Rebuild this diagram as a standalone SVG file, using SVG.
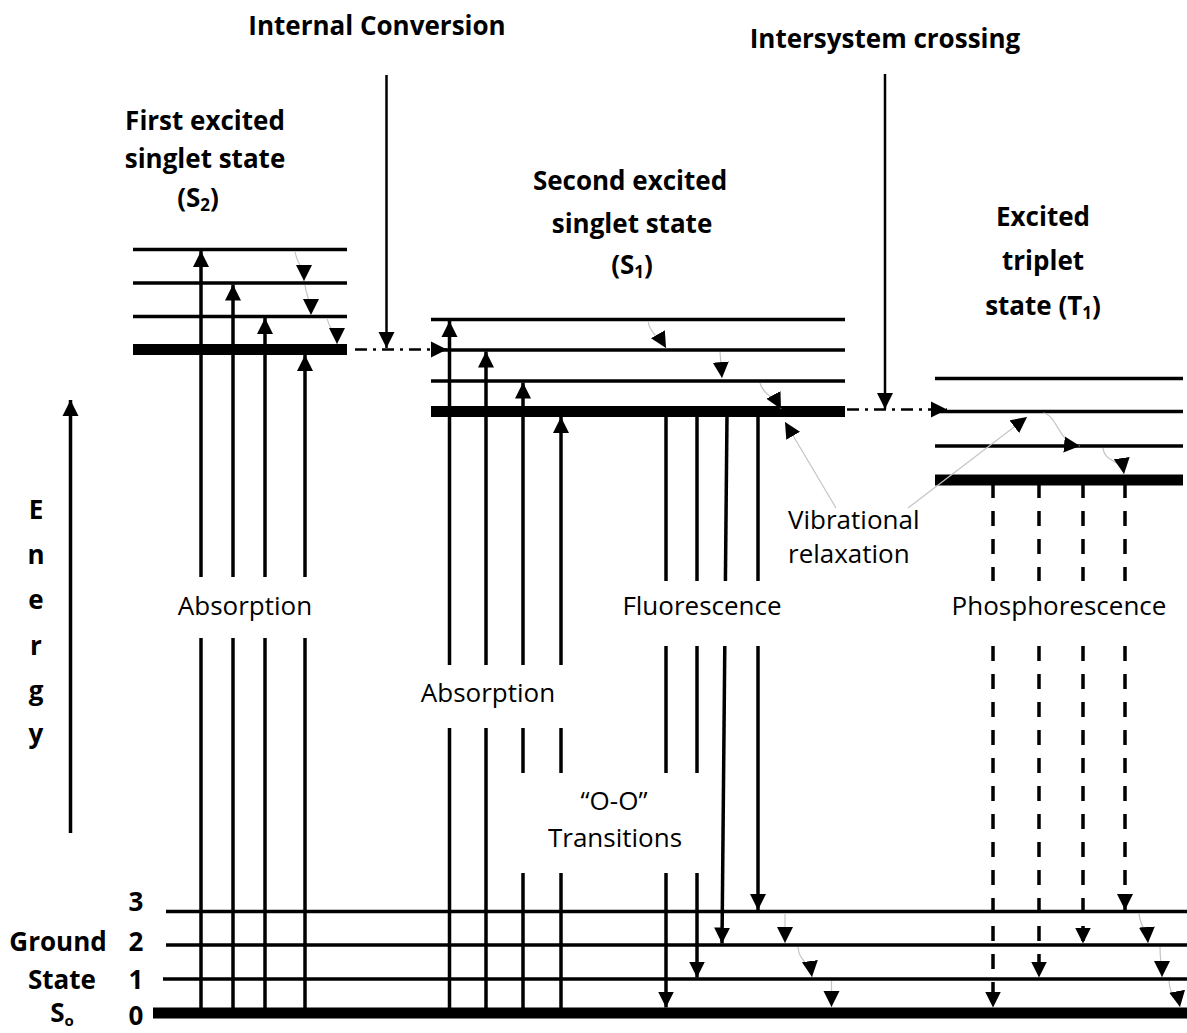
<svg xmlns="http://www.w3.org/2000/svg" width="1187" height="1033" viewBox="0 0 1187 1033">
<style>
.lv{stroke:#000;stroke-width:3.5}
.thk{stroke:#000;stroke-width:11}
.ar{stroke:#000;stroke-width:3.5;fill:none}
.ds{stroke-dasharray:15 13}
.vr{stroke:#c4c4c4;stroke-width:1.2;fill:none}
.dd{stroke:#000;stroke-width:2.5;stroke-dasharray:12 6 3 6;fill:none}
.th{stroke:#000;stroke-width:2.5;fill:none}
.t{font-family:"Open Sans","Liberation Sans",sans-serif;font-size:26px;text-anchor:middle;fill:#000}
.l{text-anchor:start}
.b{font-weight:bold}
</style>
<defs>
<marker id="ah" markerUnits="userSpaceOnUse" markerWidth="17" markerHeight="17" viewBox="0 0 17 17" refX="16" refY="8.5" orient="auto">
<path d="M0,0.5 L16,8.5 L0,16.5 z" fill="#000"/>
</marker>
</defs>
<rect width="1187" height="1033" fill="#fff"/>

<g id="label-internal-conversion">
<text class="t b" x="377" y="35">Internal Conversion</text>
</g>
<g id="label-intersystem-crossing">
<text class="t b" x="885" y="48">Intersystem crossing</text>
</g>

<g id="state-s2">
<text class="t b" x="205" y="130">First excited</text>
<text class="t b" x="205" y="168">singlet state</text>
<text class="t b" x="198" y="207">(S<tspan font-size="17" dy="4">2</tspan><tspan dy="-4">)</tspan></text>
<line class="lv" x1="133" y1="249.5" x2="347" y2="249.5"/>
<line class="lv" x1="133" y1="283" x2="347" y2="283"/>
<line class="lv" x1="133" y1="316.5" x2="347" y2="316.5"/>
<line class="thk" x1="133" y1="349.5" x2="347" y2="349.5"/>
</g>

<g id="state-s1">
<text class="t b" x="630" y="190">Second excited</text>
<text class="t b" x="632" y="233">singlet state</text>
<text class="t b" x="632" y="274">(S<tspan font-size="17" dy="4">1</tspan><tspan dy="-4">)</tspan></text>
<line class="lv" x1="431" y1="319.5" x2="845" y2="319.5"/>
<line class="lv" x1="431" y1="350" x2="845" y2="350"/>
<line class="lv" x1="431" y1="381" x2="845" y2="381"/>
<line class="thk" x1="431" y1="411.5" x2="845" y2="411.5"/>
</g>

<g id="state-t1">
<text class="t b" x="1043" y="226">Excited</text>
<text class="t b" x="1043" y="270">triplet</text>
<text class="t b" x="1043" y="315">state (T<tspan font-size="17" dy="4">1</tspan><tspan dy="-4">)</tspan></text>
<line class="lv" x1="935" y1="378.5" x2="1183" y2="378.5"/>
<line class="lv" x1="935" y1="411.5" x2="1183" y2="411.5"/>
<line class="lv" x1="935" y1="446" x2="1183" y2="446"/>
<line class="thk" x1="935" y1="480" x2="1183" y2="480"/>
</g>

<g id="state-s0">
<line class="lv" x1="166" y1="911.5" x2="1187" y2="911.5"/>
<line class="lv" x1="166" y1="945" x2="1187" y2="945"/>
<line class="lv" x1="163" y1="979" x2="1187" y2="979"/>
<line class="thk" x1="153" y1="1013" x2="1187" y2="1013"/>
<text class="t b" x="136" y="911">3</text>
<text class="t b" x="136" y="951">2</text>
<text class="t b" x="136" y="989">1</text>
<text class="t b" x="136" y="1025">0</text>
<text class="t b" x="58" y="951">Ground</text>
<text class="t b" x="62" y="989">State</text>
<text class="t b" x="62" y="1022">S<tspan font-size="15" dy="4">o</tspan></text>
</g>

<g id="energy-axis">
<line class="ar" x1="70.5" y1="833" x2="70.5" y2="400" marker-end="url(#ah)"/>
<text class="t b" x="36" y="519">E</text>
<text class="t b" x="36" y="564">n</text>
<text class="t b" x="36" y="609">e</text>
<text class="t b" x="36" y="655">r</text>
<text class="t b" x="36" y="700">g</text>
<text class="t b" x="36" y="743">y</text>
</g>

<g id="process-labels">
<text class="t" x="245" y="615">Absorption</text>
<text class="t" x="488" y="702">Absorption</text>
<text class="t" x="702" y="615">Fluorescence</text>
<text class="t" x="1059" y="615">Phosphorescence</text>
<text class="t" x="614" y="810">“O-O”</text>
<text class="t" x="615" y="847">Transitions</text>
<text class="t l" x="788" y="529">Vibrational</text>
<text class="t l" x="788" y="563">relaxation</text>
</g>

<g id="connectors">
<!-- internal conversion and intersystem crossing -->
<line class="th" x1="386.5" y1="75" x2="386.5" y2="348" marker-end="url(#ah)"/>
<line class="dd" x1="355" y1="349.5" x2="447" y2="349.5" marker-end="url(#ah)"/>
<line class="th" x1="885" y1="74" x2="885" y2="409" marker-end="url(#ah)"/>
<line class="dd" x1="847" y1="409.5" x2="947" y2="409.5" marker-end="url(#ah)"/>

<!-- absorption to S2 -->
<line class="ar" x1="201" y1="1010" x2="201" y2="638"/>
<line class="ar" x1="201" y1="577" x2="201" y2="251" marker-end="url(#ah)"/>
<line class="ar" x1="233" y1="1010" x2="233" y2="638"/>
<line class="ar" x1="233" y1="577" x2="233" y2="284.5" marker-end="url(#ah)"/>
<line class="ar" x1="265" y1="1010" x2="265" y2="638"/>
<line class="ar" x1="265" y1="577" x2="265" y2="318" marker-end="url(#ah)"/>
<line class="ar" x1="305" y1="1010" x2="305" y2="638"/>
<line class="ar" x1="305" y1="577" x2="305" y2="355" marker-end="url(#ah)"/>

<!-- absorption to S1 -->
<line class="ar" x1="449.5" y1="1010" x2="449.5" y2="728"/>
<line class="ar" x1="449.5" y1="665" x2="449.5" y2="321" marker-end="url(#ah)"/>
<line class="ar" x1="486" y1="1010" x2="486" y2="728"/>
<line class="ar" x1="486" y1="665" x2="486" y2="351.5" marker-end="url(#ah)"/>
<line class="ar" x1="523" y1="1010" x2="523" y2="873"/>
<line class="ar" x1="523" y1="773" x2="523" y2="728"/>
<line class="ar" x1="523" y1="665" x2="523" y2="382.5" marker-end="url(#ah)"/>
<line class="ar" x1="561" y1="1010" x2="561" y2="873"/>
<line class="ar" x1="561" y1="773" x2="561" y2="728"/>
<line class="ar" x1="561" y1="665" x2="561" y2="417" marker-end="url(#ah)"/>

<!-- fluorescence -->
<line class="ar" x1="666" y1="415" x2="666" y2="581"/>
<line class="ar" x1="666" y1="646" x2="666" y2="773"/>
<line class="ar" x1="666" y1="873" x2="666" y2="1007.5" marker-end="url(#ah)"/>
<line class="ar" x1="697" y1="415" x2="697" y2="581"/>
<line class="ar" x1="697" y1="646" x2="697" y2="773"/>
<line class="ar" x1="697" y1="873" x2="697" y2="977.5" marker-end="url(#ah)"/>
<line class="ar" x1="727" y1="415" x2="725.4" y2="581"/>
<line class="ar" x1="724.8" y1="646" x2="722" y2="943.5" marker-end="url(#ah)"/>
<line class="ar" x1="758" y1="415" x2="758" y2="581"/>
<line class="ar" x1="758" y1="646" x2="758" y2="910" marker-end="url(#ah)"/>

<!-- phosphorescence -->
<line class="ar ds" x1="993" y1="483" x2="993" y2="581"/>
<line class="ar ds" x1="993" y1="646" x2="993" y2="1007.5" marker-end="url(#ah)"/>
<line class="ar ds" x1="1039" y1="483" x2="1039" y2="581"/>
<line class="ar ds" x1="1039" y1="646" x2="1039" y2="977.5" marker-end="url(#ah)"/>
<line class="ar ds" x1="1083" y1="483" x2="1083" y2="581"/>
<line class="ar ds" x1="1083" y1="646" x2="1083" y2="943.5" marker-end="url(#ah)"/>
<line class="ar ds" x1="1125" y1="483" x2="1125" y2="581"/>
<line class="ar ds" x1="1125" y1="646" x2="1125" y2="910" marker-end="url(#ah)"/>

<!-- vibrational relaxation in S2 -->
<path class="vr" d="M295,251 C296,263 304,266 304,281" marker-end="url(#ah)"/>
<path class="vr" d="M305,285 C306,296 311,300 311,315" marker-end="url(#ah)"/>
<path class="vr" d="M327,318 C329,331 337,331 337,344" marker-end="url(#ah)"/>
<!-- vibrational relaxation in S1 -->
<path class="vr" d="M648,321 C650,334 659,336 666,348" marker-end="url(#ah)"/>
<path class="vr" d="M720,352 L722,378" marker-end="url(#ah)"/>
<path class="vr" d="M760,383 C763,395 774,396 781,409" marker-end="url(#ah)"/>
<!-- vibrational relaxation in T1 -->
<path class="vr" d="M1043,413 C1058,415 1058,444 1080,446" marker-end="url(#ah)"/>
<path class="vr" d="M1103,448 C1104,462 1122,460 1124,474" marker-end="url(#ah)"/>
<!-- vibrational relaxation in S0 -->
<path class="vr" d="M785,913 L785,943" marker-end="url(#ah)"/>
<path class="vr" d="M798,947 C799,962 810,962 812,977" marker-end="url(#ah)"/>
<path class="vr" d="M831.5,981 L831.5,1007" marker-end="url(#ah)"/>
<path class="vr" d="M1139,913 C1140,928 1147,929 1148,943" marker-end="url(#ah)"/>
<path class="vr" d="M1160,947 C1160,962 1162,965 1162,977" marker-end="url(#ah)"/>
<path class="vr" d="M1169,981 C1170,998 1178,996 1180,1007" marker-end="url(#ah)"/>
<!-- vibrational relaxation callouts -->
<path class="vr" d="M836,508 L785,422" marker-end="url(#ah)"/>
<path class="vr" d="M908,508 L1027,417" marker-end="url(#ah)"/>
</g>
</svg>
